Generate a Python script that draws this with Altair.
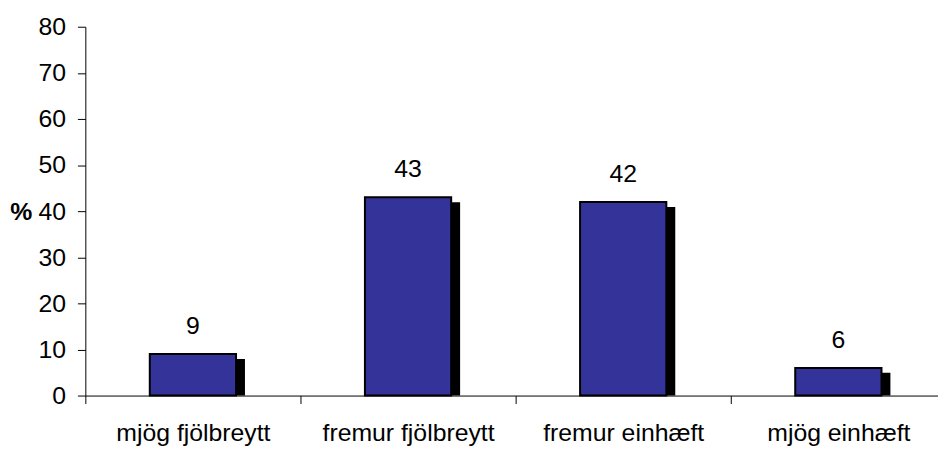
import json
import altair as alt
import pandas as pd

categories = ["mjög fjölbreytt", "fremur fjölbreytt", "fremur einhæft", "mjög einhæft"]
values = [9, 43, 42, 6]
y_ticks = [0, 10, 20, 30, 40, 50, 60, 70, 80]

df = pd.DataFrame({"cat": categories, "val": values})

FONT = "Liberation Sans"
FS = 25
PLOT_W = 860
SLOT = 217  # pixel width of one category slot in the original
cats_js = json.dumps(categories, ensure_ascii=False)

x_values = [i * 0.5 for i in range(2 * len(categories))]

x_enc = alt.X(
    "pos:Q",
    scale=alt.Scale(domain=[0, PLOT_W / SLOT], nice=False, zero=False, padding=0),
    axis=alt.Axis(
        title=None,
        values=x_values,
        labelExpr=f"datum.value % 1 == 0 ? '' : {cats_js}[floor(datum.value)]",
        labelAngle=0,
        labelFont=FONT,
        labelFontSize=FS,
        labelColor="black",
        labelBaseline="alphabetic",
        labelAlign="center",
        labelFlush=False,
        labelPadding=37,
        labelOverlap=False,
        tickSize=8,
        tickColor="black",
        tickOpacity={"condition": {"test": "datum.value % 1 != 0", "value": 0}, "value": 1},
        domainColor="black",
        grid=False,
    ),
)

y_enc = alt.Y(
    "val:Q",
    scale=alt.Scale(domain=[0, 80], nice=False, padding=0),
    axis=alt.Axis(
        values=y_ticks,
        grid=False,
        title="%",
        titleAngle=0,
        titleFont=FONT,
        titleFontSize=FS,
        titleFontWeight="bold",
        titleColor="black",
        titleAlign="right",
        titleBaseline="middle",
        titleX=-54,
        titleY=186,
        labelFont=FONT,
        labelFontSize=FS,
        labelColor="black",
        labelPadding=12,
        tickSize=8,
        tickColor="black",
        domainColor="black",
    ),
)

base = (
    alt.Chart(df)
    .transform_calculate(pos=f"indexof({cats_js}, datum.cat) + 0.5")
    .encode(x=x_enc, y=y_enc)
)

shadow = base.mark_bar(color="black", width=87, xOffset=9, yOffset=5, clip=True)
bars = base.mark_bar(color="#333399", stroke="black", strokeWidth=2, width=87)
labels = base.mark_text(
    font=FONT, fontSize=FS, color="black", baseline="alphabetic", align="center", dy=-20
).encode(text="val:Q")

chart = (
    alt.layer(shadow, bars, labels)
    .properties(
        width=PLOT_W,
        height=372,
        autosize=alt.AutoSizeParams(type="none"),
        padding={"left": 78, "top": 17, "right": 0, "bottom": 52},
        background="white",
    )
    .configure_view(stroke=None)
)

chart.save("out.html", embed_options={"renderer": "svg", "actions": False})
